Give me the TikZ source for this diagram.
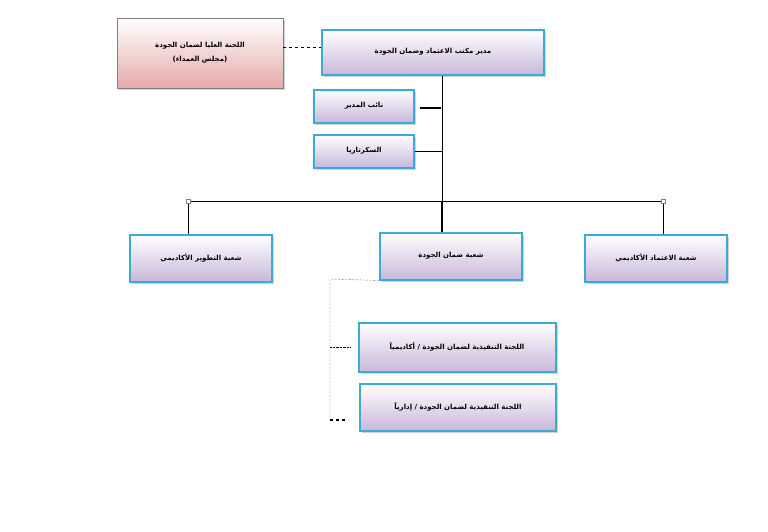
\documentclass[tikz,border=0pt]{standalone}
\usepackage{fontspec}
\newfontfamily\arabicfont[Script=Arabic]{DejaVu Sans}
\TeXXeTstate=1
\usetikzlibrary{shadows}
\definecolor{boxblue}{HTML}{3DAAD6}
\definecolor{boxlav}{HTML}{C9B8DA}
\definecolor{boxpink}{HTML}{E6AAAA}
\tikzset{
  unit/.style={draw=boxblue,line width=2pt,top color=white,bottom color=boxlav,
    drop shadow={opacity=0.35,shadow xshift=2pt,shadow yshift=-2pt},
    font=\arabicfont\bfseries\fontsize{7}{9}\selectfont,align=center},
  council/.style={draw=gray,line width=0.6pt,top color=white,bottom color=boxpink,
    drop shadow={opacity=0.35,shadow xshift=2pt,shadow yshift=-2pt},
    font=\arabicfont\bfseries\fontsize{7}{14}\selectfont,align=center},
  handle/.style={draw=gray,fill=white,minimum size=4pt,inner sep=0pt}
}
\newcommand{\ar}[1]{\beginR #1\endR}
\begin{document}
\begin{tikzpicture}[x=1pt,y=-1pt]
    \useasboundingbox[fill=white] (0,0) rectangle (768,531);
    % Top level
    \node[council,minimum width=166pt,minimum height=70pt] (council) at (200,53) {\ar{اللجنة العليا لضمان الجودة}\\\ar{(مجلس العمداء)}};
    \node[unit,minimum width=222pt,minimum height=45pt] (director) at (433,52) {\ar{مدير مكتب الاعتماد وضمان الجودة}};
    \node[unit,minimum width=100pt,minimum height=33pt] (deputy) at (364,106) {\ar{نائب المدير}};
    \node[unit,minimum width=100pt,minimum height=33pt] (secretary) at (364,151) {\ar{السكرتاريا}};
    % Divisions
    \node[unit,minimum width=142pt,minimum height=47pt] (develop) at (201,258) {\ar{شعبة التطوير الأكاديمي}};
    \node[unit,minimum width=142pt,minimum height=47pt] (quality) at (451,256) {\ar{شعبة ضمان الجودة}};
    \node[unit,minimum width=142pt,minimum height=47pt] (accredit) at (656,258) {\ar{شعبة الاعتماد الأكاديمي}};
    % Committees
    \node[unit,minimum width=197pt,minimum height=49pt] (academic) at (457,347) {\ar{اللجنة التنفيذية لضمان الجودة / أكاديمياً}};
    \node[unit,minimum width=196pt,minimum height=47pt] (admin) at (458,407) {\ar{اللجنة التنفيذية لضمان الجودة / إدارياً}};
    % Connectors
    \coordinate (hub) at (442,201);
    \coordinate (leftend) at (188,201);
    \coordinate (rightend) at (663,201);
    \draw[dashed,thin] (council.east |- 0,47) -- (director.west |- 0,47);
    \draw[thin] (director.south -| hub) -- (hub);
    \draw[line width=1.8pt] (deputy.east) ++(5,2) -- ++(21,0);
    \draw[thin] (secretary.east) -- (secretary.east -| hub);
    \draw[line width=2pt] (hub) -- (quality.north -| hub);
    \draw[thin] (leftend) -- (rightend);
    \draw[thin] (leftend) -- (develop.north -| leftend);
    \draw[thin] (rightend) -- (accredit.north -| rightend);
    \node[handle] at (leftend) {};
    \node[handle] at (rightend) {};
    \coordinate (spine) at (330,279);
    \draw[densely dotted,thin] (quality.south west) -- (spine) -- (spine |- 0,420);
    \draw[densely dotted,thin] (spine |- academic.west) -- ++(21,0);
    \draw[dashed,line width=1.8pt] (spine |- 0,420) -- ++(18,0);
\end{tikzpicture}
\end{document}
